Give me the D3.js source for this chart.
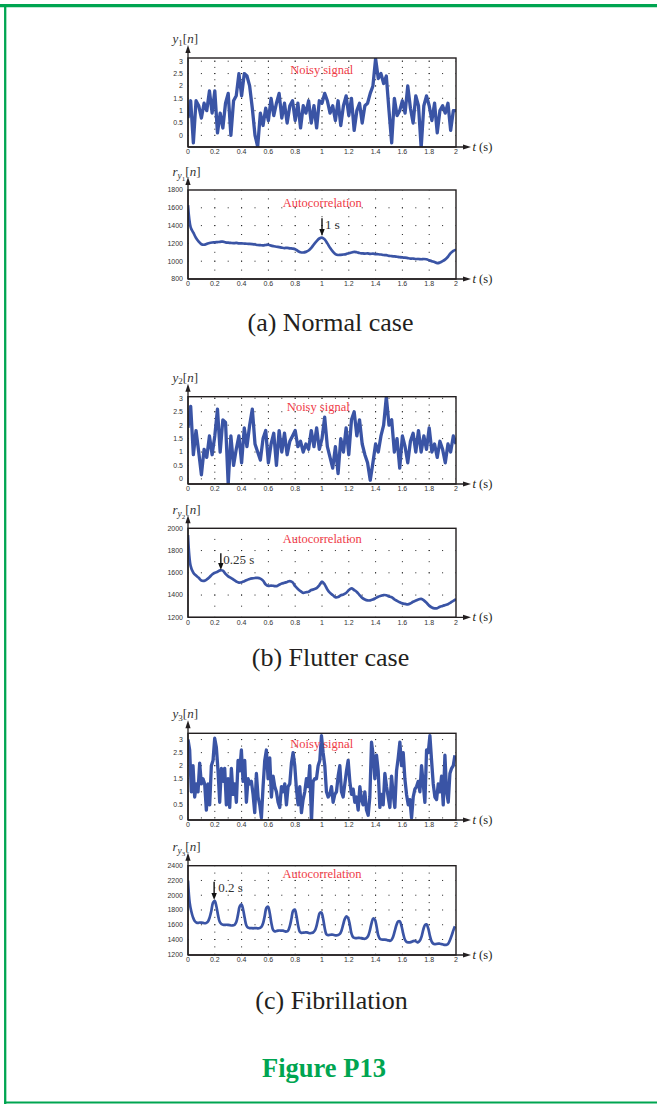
<!DOCTYPE html>
<html><head><meta charset="utf-8">
<script src="https://cdn.jsdelivr.net/npm/d3@7"></script>
<style>body{margin:0;background:#fff} svg{display:block}</style>
</head><body>
<svg id="c" width="657" height="1104"></svg>
<script>
// ---------- DATA ----------
const xTicks = [0,0.2,0.4,0.6,0.8,1,1.2,1.4,1.6,1.8,2];
const xTickLabels = ["0","0.2","0.4","0.6","0.8","1","1.2","1.4","1.6","1.8","2"];
const noisyTicks = [0,0.5,1,1.5,2,2.5,3];
const noisyTickLabels = ["0","0.5","1","1.5","2","2.5","3"];
const ac1Ticks = [800,1000,1200,1400,1600,1800];
const ac2Ticks = [1200,1400,1600,1800,2000];
const ac3Ticks = [1200,1400,1600,1800,2000,2200,2400];
const captions = ["(a) Normal case","(b) Flutter case","(c) Fibrillation"];
const figureTitle = "Figure P13";
const annotations = [{t:1.0,label:"1 s"},{t:0.245,label:"0.25 s"},{t:0.195,label:"0.2 s"}];

// sample spacing (s) of each read-off series
const dtCoarse = 0.02, dtFine = 0.01245;

const noisy1 = [
 0.7,1.4,-0.3,1.4,1.2,0.7,1.3,1.0,1.8,0.9,
 1.8,0.1,0.9,0.3,1.3,1.7,0.0,1.4,1.6,2.5,
 1.6,2.5,2.4,2.0,1.1,0.0,-0.45,0.9,0.4,1.1,
 0.6,1.5,0.8,1.3,1.7,0.7,1.3,0.5,1.2,1.4,
 0.6,1.3,0.3,1.2,0.9,1.4,0.5,1.2,0.3,1.4,
 1.3,1.7,1.4,0.9,1.2,0.6,1.4,0.4,1.2,1.6,
 0.8,1.5,0.2,1.0,1.3,0.5,1.2,1.3,1.7,2.0,
 3.1,2.3,2.5,2.1,2.4,1.0,-0.3,1.5,0.8,1.0,
 1.4,0.9,2.0,1.1,0.5,1.6,1.2,-0.5,1.2,1.6,
 1.2,0.6,1.3,0.1,1.0,1.2,0.9,1.3,0.2,1.0,
 1.0];
const noisy2 = [
 1.9,2.7,0.9,1.8,1.0,0.15,1.1,0.8,1.6,0.9,
 1.6,2.6,1.0,2.2,2.1,-0.2,1.6,0.5,1.1,1.6,
 0.6,1.9,1.2,2.0,2.6,1.3,1.0,0.7,1.5,1.8,
 0.6,1.3,1.7,0.5,1.8,1.0,1.7,0.9,1.4,1.6,
 1.8,1.2,1.4,1.0,1.3,1.1,1.8,1.2,1.9,1.1,
 1.5,2.3,1.2,0.8,0.4,1.2,0.2,1.5,1.0,1.9,
 0.9,2.2,2.5,1.6,2.2,1.3,0.9,0.6,-0.05,0.6,
 1.3,1.0,1.6,2.0,3.05,2.0,2.2,1.0,1.5,0.4,
 1.6,1.2,0.6,1.4,1.7,1.0,1.8,1.0,1.6,1.1,
 1.9,1.0,1.3,0.8,1.4,1.1,0.6,1.3,1.0,1.6,
 1.3];
const noisy3 = [
 3.0,2.6,1.0,2.0,0.8,1.3,1.0,2.1,1.3,1.5,
 1.3,0.3,1.3,0.5,2.0,2.2,3.05,2.7,1.8,0.6,
 1.9,1.4,1.9,0.5,1.5,0.4,1.9,0.9,1.3,0.6,
 2.2,1.8,2.6,1.4,2.2,0.6,1.5,1.3,1.4,0.9,
 0.2,1.7,0.8,0.5,0.0,1.2,2.2,2.6,1.5,2.3,
 0.8,1.6,1.2,1.0,0.6,0.4,1.2,1.0,1.3,0.5,
 1.2,1.3,2.1,2.5,2.0,1.1,0.5,1.2,0.2,0.7,
 1.0,1.5,1.2,2.0,-0.15,1.4,1.5,1.5,2.0,2.2,
 3.15,2.5,2.0,1.0,0.8,0.9,1.2,0.6,0.9,1.0,
 1.6,2.0,1.0,0.8,1.3,1.8,2.2,1.4,0.9,1.1,
 0.6,0.8,0.3,1.2,0.7,0.5,1.0,0.3,0.1,0.8,
 2.9,2.4,1.5,2.4,1.8,0.4,0.9,0.5,1.7,1.2,
 0.8,0.4,1.6,0.9,0.4,1.8,2.3,2.9,2.0,2.5,
 1.5,0.9,0.5,0.7,0.0,0.8,1.1,1.2,1.4,1.0,
 2.0,1.3,0.6,2.6,2.5,3.15,2.2,1.3,0.8,0.7,
 1.3,1.0,1.6,0.5,2.4,1.0,0.6,1.7,1.9,2.0,
 2.4];
const acorr1 = [
 1630,1380,1320,1260,1220,1190,1185,1195,1205,1210,
 1212,1215,1218,1220,1212,1208,1205,1203,1205,1200,
 1200,1198,1196,1195,1192,1188,1182,1180,1178,1182,
 1185,1175,1168,1162,1158,1152,1148,1150,1145,1142,
 1135,1115,1100,1098,1105,1120,1150,1190,1225,1255,
 1265,1245,1200,1150,1110,1080,1070,1072,1075,1080,
 1090,1098,1105,1100,1092,1088,1085,1088,1082,1085,
 1080,1078,1075,1070,1068,1060,1058,1055,1050,1045,
 1042,1040,1035,1030,1030,1025,1025,1022,1025,1022,
 1010,1000,990,978,985,1000,1020,1050,1090,1115,
 1130];
const acorr2 = [
 1940,1660,1600,1575,1555,1530,1528,1540,1560,1585,
 1600,1610,1622,1620,1590,1568,1555,1538,1522,1512,
 1515,1525,1535,1545,1550,1553,1555,1548,1530,1495,
 1482,1485,1482,1480,1492,1503,1510,1518,1525,1515,
 1480,1455,1435,1420,1425,1430,1445,1452,1462,1488,
 1520,1495,1450,1420,1400,1380,1382,1398,1405,1418,
 1445,1460,1445,1428,1400,1375,1360,1352,1352,1360,
 1372,1385,1393,1400,1398,1388,1380,1362,1348,1335,
 1325,1320,1316,1325,1340,1350,1360,1365,1352,1330,
 1305,1288,1280,1282,1295,1302,1310,1318,1332,1348,
 1362];
const acorr3 = [
 2200,1900,1780,1700,1650,1630,1625,1630,1628,1625,
 1620,1625,1645,1700,1790,1900,1925,1850,1730,1640,
 1610,1600,1598,1600,1598,1595,1590,1592,1600,1640,
 1740,1850,1875,1810,1690,1590,1560,1555,1555,1552,
 1555,1555,1550,1555,1570,1620,1720,1830,1845,1760,
 1620,1530,1510,1515,1520,1522,1520,1520,1512,1508,
 1520,1580,1680,1790,1805,1720,1590,1505,1490,1492,
 1495,1497,1492,1485,1488,1495,1520,1580,1680,1760,
 1765,1680,1550,1470,1460,1462,1466,1465,1458,1455,
 1460,1475,1520,1600,1680,1715,1690,1600,1480,1430,
 1420,1418,1422,1420,1418,1412,1410,1420,1450,1520,
 1620,1685,1670,1580,1460,1410,1400,1398,1398,1395,
 1388,1382,1395,1440,1520,1600,1645,1645,1580,1480,
 1400,1368,1360,1362,1368,1378,1380,1370,1362,1385,
 1440,1530,1595,1605,1550,1450,1375,1345,1338,1340,
 1345,1342,1338,1332,1328,1330,1345,1390,1450,1520,
 1580];

// ---------- LAYOUT ----------
const svg = d3.select('#c');
const GREEN = '#00a551', BLUE = '#3a54a5', RED = '#ef3b47', INK = '#231f20';
const SERIF = 'Liberation Serif, Times New Roman, serif';
const SANS = 'Liberation Sans, Arial, sans-serif';
const X0 = 188, X1 = 456;
const x = d3.scaleLinear().domain([0,2]).range([X0,X1]);

// frame
svg.append('line').attr('x1',0).attr('x2',657).attr('y1',5.6).attr('y2',5.6).attr('stroke',GREEN).attr('stroke-width',3.3);
svg.append('line').attr('x1',5.2).attr('x2',5.2).attr('y1',4).attr('y2',1104).attr('stroke',GREEN).attr('stroke-width',2.3);
svg.append('line').attr('x1',4).attr('x2',657).attr('y1',1102.6).attr('y2',1102.6).attr('stroke',GREEN).attr('stroke-width',2);

const panels = [
 {top:58, bot:147, dom:[-0.47,3.13], data:noisy1, dt:dtCoarse, ticks:noisyTicks, tl:noisyTickLabels, kind:'y', idx:'1', text:'Noisy signal', tx:321.7, ty:15.7, sw:3.3},
 {top:190, bot:279, dom:[800,1800], data:acorr1, dt:dtCoarse, ticks:ac1Ticks, tl:ac1Ticks.map(String), kind:'r', idx:'1', text:'Autocorrelation', tx:322.3, ty:16.7, sw:2.7, ann:annotations[0], aTop:218.3, aTip:236, lx:325, ly:229},
 {top:396.7, bot:484, dom:[-0.19,3.06], data:noisy2, dt:dtCoarse, ticks:noisyTicks, tl:noisyTickLabels, kind:'y', idx:'2', text:'Noisy signal', tx:318.3, ty:14, sw:3.3},
 {top:528.3, bot:617.3, dom:[1200,2000], data:acorr2, dt:dtCoarse, ticks:ac2Ticks, tl:ac2Ticks.map(String), kind:'r', idx:'2', text:'Autocorrelation', tx:322.3, ty:15, sw:2.7, ann:annotations[1], aTop:553.3, aTip:570, lx:223.3, ly:564},
 {top:733.3, bot:820, dom:[-0.08,3.24], data:noisy3, dt:dtFine, ticks:noisyTicks, tl:noisyTickLabels, kind:'y', idx:'3', text:'Noisy signal', tx:321.7, ty:14.4, sw:3.3},
 {top:865.7, bot:955, dom:[1190,2400], data:acorr3, dt:dtFine, ticks:ac3Ticks, tl:ac3Ticks.map(String), kind:'r', idx:'3', text:'Autocorrelation', tx:322, ty:12.6, sw:2.7, ann:annotations[2], aTop:881.7, aTip:900, lx:218.3, ly:891.7}
];

svg.append('defs');
panels.forEach((p,k)=>{
  const y = d3.scaleLinear().domain(p.dom).range([p.bot,p.top]);
  const g = svg.append('g');
  const cid = 'clip'+k;
  svg.select('defs').append('clipPath').attr('id',cid).append('rect')
     .attr('x',X0).attr('y',p.top).attr('width',X1-X0).attr('height',p.bot-p.top);
  // dotted grid
  const hx = x(0.1)-x(0);
  p.ticks.forEach(v=>{
    const yy = y(v);
    if (yy < p.top+1 || yy > p.bot-1) return;
    g.append('line').attr('x1',X0).attr('x2',X1).attr('y1',yy).attr('y2',yy)
      .attr('stroke','#222').attr('stroke-width',1).attr('stroke-dasharray',`1,${hx-1}`)
      .attr('stroke-dashoffset',-hx+0.5);
  });
  const vy = Math.abs(y(p.ticks[1])-y(p.ticks[0]))/2;
  xTicks.slice(1,-1).forEach(t=>{
    g.append('line').attr('x1',x(t)).attr('x2',x(t)).attr('y1',y(p.ticks[0])).attr('y2',p.top)
      .attr('stroke','#222').attr('stroke-width',1).attr('stroke-dasharray',`1,${vy-1}`)
      .attr('stroke-dashoffset',0.5);
  });
  // series
  const line = d3.line().x((d,i)=>x(i*p.dt)).y(d=>y(d));
  if (p.kind==='r') line.curve(d3.curveCatmullRom);
  g.append('path').datum(p.data).attr('d',line).attr('fill','none')
    .attr('stroke',BLUE).attr('stroke-width',p.sw).attr('stroke-linejoin','round')
    .attr('clip-path',`url(#${cid})`);
  // box
  g.append('rect').attr('x',X0).attr('y',p.top).attr('width',X1-X0).attr('height',p.bot-p.top)
    .attr('fill','none').attr('stroke',INK).attr('stroke-width',1.4);
  // axis arrows
  g.append('line').attr('x1',X0).attr('x2',X0).attr('y1',p.bot).attr('y2',p.top-8).attr('stroke',INK).attr('stroke-width',1.3);
  g.append('path').attr('d',`M${X0},${p.top-13} L${X0-2.6},${p.top-5} L${X0+2.6},${p.top-5} Z`).attr('fill',INK);
  g.append('line').attr('x1',X0).attr('x2',466).attr('y1',p.bot).attr('y2',p.bot).attr('stroke',INK).attr('stroke-width',1.3);
  g.append('path').attr('d',`M471,${p.bot} L463,${p.bot-2.6} L463,${p.bot+2.6} Z`).attr('fill',INK);
  // t (s)
  const tt = g.append('text').attr('x',472.5).attr('y',p.bot+4).attr('font-family',SERIF)
    .attr('font-size',12.5).attr('fill',INK);
  tt.append('tspan').attr('font-style','italic').text('t');
  tt.append('tspan').text(' (s)');
  // tick labels
  xTicks.forEach((t,i)=>{
    g.append('text').attr('x',x(t)).attr('y',p.bot+7.2).attr('text-anchor','middle')
      .attr('font-family',SANS).attr('font-size',7).attr('fill','#333').text(xTickLabels[i]);
  });
  p.ticks.forEach((v,i)=>{
    g.append('text').attr('x',183).attr('y',y(v)+2.4).attr('text-anchor','end')
      .attr('font-family',SANS).attr('font-size',7).attr('fill','#333').text(p.tl[i]);
  });
  // y label
  const lab = g.append('text').attr('x',172.5).attr('y',p.top-15).attr('font-family',SERIF)
    .attr('font-size',13).attr('fill','#333');
  if (p.kind==='y') {
    lab.append('tspan').attr('font-style','italic').text('y');
    lab.append('tspan').attr('font-size',9).attr('dy',2.5).text(p.idx);
    lab.append('tspan').attr('dy',-2.5).text('[');
    lab.append('tspan').attr('font-style','italic').text('n');
    lab.append('tspan').text(']');
  } else {
    lab.attr('y',p.top-14.5);
    lab.append('tspan').attr('font-style','italic').text('r');
    lab.append('tspan').attr('font-style','italic').attr('font-size',9.5).attr('dy',3).text('y');
    lab.append('tspan').attr('font-size',7).attr('dy',2).text(p.idx);
    lab.append('tspan').attr('dy',-5).text('[');
    lab.append('tspan').attr('font-style','italic').text('n');
    lab.append('tspan').text(']');
  }
  // red label
  g.append('text').attr('x',p.tx).attr('y',p.top+p.ty).attr('text-anchor','middle')
    .attr('font-family',SERIF).attr('font-size',12.5).attr('fill',RED).text(p.text);
  // annotation
  if (p.ann) {
    const ax = x(p.ann.t);
    g.append('line').attr('x1',ax).attr('x2',ax).attr('y1',p.aTop).attr('y2',p.aTip-5).attr('stroke','#111').attr('stroke-width',1.4);
    g.append('path').attr('d',`M${ax},${p.aTip} L${ax-2.7},${p.aTip-7} L${ax+2.7},${p.aTip-7} Z`).attr('fill','#111');
    g.append('text').attr('x',p.lx).attr('y',p.ly).attr('font-family',SERIF)
      .attr('font-size',13).attr('fill','#333').text(p.ann.label);
  }
});

// captions
const capX = [330.5, 330.5, 331.5];
const capY = [331, 666, 1009];
captions.forEach((c,i)=>{
  svg.append('text').attr('x',capX[i]).attr('y',capY[i]).attr('text-anchor','middle')
    .attr('font-family',SERIF).attr('font-size',26).attr('fill',INK).text(c);
});
svg.append('text').attr('x',324).attr('y',1077).attr('text-anchor','middle')
  .attr('font-family',SERIF).attr('font-weight','bold')
  .attr('font-size',26.5).attr('fill',GREEN).text(figureTitle);
</script>
</body></html>
